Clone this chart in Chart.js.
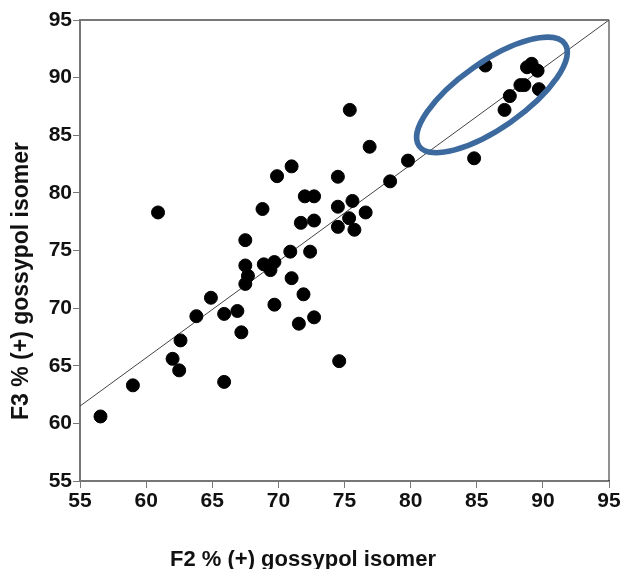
<!DOCTYPE html>
<html>
<head>
<meta charset="utf-8">
<script src="https://cdn.jsdelivr.net/npm/chart.js@4.4.1/dist/chart.umd.min.js"></script>
<style>
  html, body { margin: 0; padding: 0; background: #fff; }
  #wrap { width: 623px; height: 569px; position: relative; }
</style>
</head>
<body>
<div id="wrap"><canvas id="myChart"></canvas></div>
<script>
// F2 vs F3 percentage of (+) gossypol isomer, one point per plant
const f2Values = [
  56.55, 59.0, 62.0, 62.5, 62.6, 63.8, 64.9, 65.9, 65.9, 66.9,
  67.2, 67.5, 67.7, 67.5, 67.5, 68.9, 69.4, 69.7, 69.7, 70.9,
  71.0, 71.9, 71.55, 72.7, 72.4, 71.7, 72.7, 72.0, 72.7, 68.8,
  69.9, 71.0, 60.9, 74.5, 74.5, 74.5, 74.6, 75.35, 75.6, 75.75,
  76.6, 75.4, 76.9, 78.45, 79.8, 84.8, 85.65, 87.1, 87.5, 88.3,
  88.6, 88.8, 89.15, 89.6, 89.7
];
const f3Values = [
  60.6, 63.3, 65.6, 64.6, 67.2, 69.3, 70.9, 69.5, 63.6, 69.75,
  67.9, 72.1, 72.8, 73.7, 75.9, 73.8, 73.3, 74.0, 70.3, 74.9,
  72.6, 71.2, 68.65, 69.2, 74.9, 77.4, 77.6, 79.7, 79.7, 78.6,
  81.45, 82.3, 78.3, 81.4, 78.8, 77.05, 65.4, 77.8, 79.3, 76.8,
  78.3, 87.2, 84.0, 81.0, 82.8, 83.0, 91.05, 87.2, 88.4, 89.35,
  89.35, 90.9, 91.2, 90.6, 89.0
];

// fitted line end points
const fitX = [55, 95];
const fitY = [61.5, 95];

// axis ticks
const xTicks = [55, 60, 65, 70, 75, 80, 85, 90, 95];
const yTicks = [55, 60, 65, 70, 75, 80, 85, 90, 95];

const xTitle = 'F2 % (+) gossypol isomer';
const yTitle = 'F3 % (+) gossypol isomer';

// highlighted cluster (centre in data units)
const ellipseCentre = [86.15, 88.5];

const points = f2Values.map((x, i) => ({ x: x, y: f3Values[i] }));
const fitLine = fitX.map((x, i) => ({ x: x, y: fitY[i] }));

const fontFamily = 'Liberation Sans, Arial, sans-serif';

const boxAndEllipse = {
  id: 'boxAndEllipse',
  afterDatasetsDraw(chart) {
    const ctx = chart.ctx;
    const a = chart.chartArea;
    ctx.save();
    // top and right frame
    ctx.beginPath();
    ctx.strokeStyle = '#777';
    ctx.lineWidth = 2;
    ctx.moveTo(a.left, a.top);
    ctx.lineTo(a.right, a.top);
    ctx.stroke();
    ctx.beginPath();
    ctx.strokeStyle = '#222';
    ctx.lineWidth = 1;
    ctx.moveTo(a.right, a.top);
    ctx.lineTo(a.right, a.bottom);
    ctx.stroke();
    // ellipse around the cluster
    const cx = chart.scales.x.getPixelForValue(ellipseCentre[0]);
    const cy = chart.scales.y.getPixelForValue(ellipseCentre[1]);
    ctx.beginPath();
    ctx.strokeStyle = '#3d6a9e';
    ctx.lineWidth = 5.5;
    ctx.ellipse(cx, cy, 89, 33, -35 * Math.PI / 180, 0, 2 * Math.PI);
    ctx.stroke();

    // axis titles (placed like the original, a little off centre)
    ctx.fillStyle = '#111';
    ctx.font = 'bold 22px ' + fontFamily;
    ctx.textAlign = 'center';
    ctx.textBaseline = 'alphabetic';
    ctx.fillText(xTitle, 303, 566);
    ctx.translate(28, 281);
    ctx.rotate(-Math.PI / 2);
    ctx.font = 'bold 23px ' + fontFamily;
    ctx.fillText(yTitle, 0, 0);
    ctx.restore();
  }
};

const tickFont = { family: fontFamily, size: 21, weight: 'bold' };

new Chart(document.getElementById('myChart'), {
  type: 'scatter',
  data: {
    datasets: [
      {
        type: 'line',
        data: fitLine,
        borderColor: '#444',
        borderWidth: 1,
        pointRadius: 0,
        fill: false,
        order: 2
      },
      {
        data: points,
        backgroundColor: '#000',
        borderColor: '#000',
        pointRadius: 6.5,
        pointHoverRadius: 6.5,
        order: 1
      }
    ]
  },
  options: {
    responsive: true,
    maintainAspectRatio: false,
    animation: false,
    layout: { padding: { top: 20, right: 14, left: 0, bottom: 0 } },
    plugins: {
      legend: { display: false },
      tooltip: { enabled: false }
    },
    scales: {
      x: {
        type: 'linear',
        min: 55,
        max: 95,
        afterBuildTicks: (s) => { s.ticks = xTicks.map(v => ({ value: v })); },
        afterFit: (s) => { s.height = 88; },
        ticks: { color: '#111', font: tickFont, padding: 1, autoSkip: false },
        grid: { display: true, drawOnChartArea: false, drawTicks: true, tickLength: 7, color: '#777', lineWidth: 1 },
        border: { display: true, color: '#777', width: 2 }
      },
      y: {
        type: 'linear',
        min: 55,
        max: 95,
        afterBuildTicks: (s) => { s.ticks = yTicks.map(v => ({ value: v })); },
        afterFit: (s) => { s.width = 80; },
        ticks: { color: '#111', font: tickFont, padding: 1, autoSkip: false },
        grid: { display: true, drawOnChartArea: false, drawTicks: true, tickLength: 7, color: '#777', lineWidth: 1 },
        border: { display: true, color: '#777', width: 2 }
      }
    }
  },
  plugins: [boxAndEllipse]
});
</script>
</body>
</html>
